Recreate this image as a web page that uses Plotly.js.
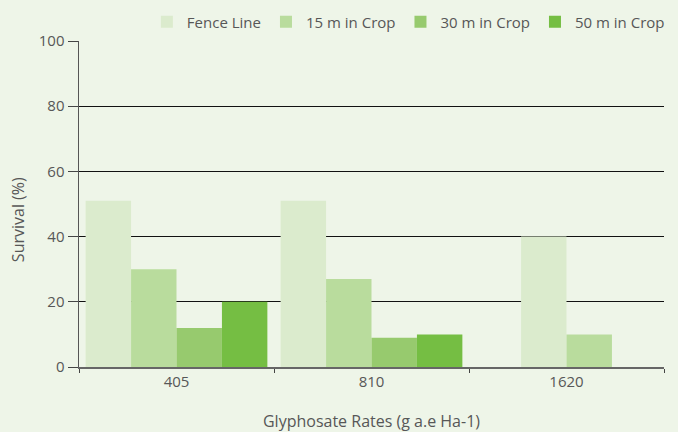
<!DOCTYPE html>
<html>
<head>
<meta charset="utf-8">
<script src="https://cdn.plot.ly/plotly-3.0.1.min.js"></script>
<style>
  html, body { margin: 0; padding: 0; background: #EEF5E8; }
  #chart { width: 678px; height: 432px; }
</style>
</head>
<body>
<div id="chart"></div>
<script>
// ---- data ----
const categories = ["405", "810", "1620"];
const seriesNames = ["Fence Line", "15 m in Crop", "30 m in Crop", "50 m in Crop"];
const fenceLine = [51, 51, 40];
const crop15 = [30, 27, 10];
const crop30 = [12, 9, null];
const crop50 = [20, 10, null];
const yTicks = [0, 20, 40, 60, 80, 100];

// ---- styles ----
const colors = ["#DBEBCD", "#B9DC9D", "#97CA6E", "#75BE43"];
const textColor = "#575757";
const fontFamily = "'Open Sans', Lato, sans-serif";
const barW = 0.233;

const allSeries = [fenceLine, crop15, crop30, crop50];

// compact bars per category (missing values are skipped, remaining bars centred)
function offsetsFor(si) {
  return categories.map((c, j) => {
    const present = allSeries.map(s => s[j] !== null && s[j] !== undefined);
    const n = present.filter(Boolean).length;
    let k = 0;
    for (let t = 0; t < si; t++) if (present[t]) k++;
    return -n * barW / 2 + k * barW;
  });
}

const traces = allSeries.map((vals, i) => ({
  type: "bar",
  name: seriesNames[i],
  x: categories,
  y: vals,
  offset: offsetsFor(i),
  width: categories.map(() => barW),
  marker: { color: colors[i], line: { width: 0 } },
  hoverinfo: "x+y+name"
}));

const layout = {
  width: 678,
  height: 432,
  paper_bgcolor: "#EEF5E8",
  plot_bgcolor: "#EEF5E8",
  margin: { l: 79, r: 14, t: 41, b: 65, pad: 0, autoexpand: false },
  barmode: "overlay",
  font: { family: fontFamily, size: 15, color: textColor },
  showlegend: true,
  legend: {
    orientation: "h",
    xref: "container",
    yref: "container",
    x: 0.988,
    xanchor: "right",
    y: 0.949,
    yanchor: "middle",
    bgcolor: "rgba(0,0,0,0)",
    font: { family: fontFamily, size: 15, color: textColor },
    itemwidth: 30,
    traceorder: "normal"
  },
  xaxis: {
    type: "category",
    range: [-0.5, 2.5],
    tickson: "boundaries",
    ticks: "outside",
    ticklen: 4,
    tickcolor: "#444",
    tickwidth: 1,
    showline: true,
    linecolor: "#666",
    linewidth: 1.5,
    showgrid: false,
    zeroline: false,
    tickfont: { family: fontFamily, size: 15, color: textColor },
    title: {
      text: "Glyphosate Rates (g a.e Ha-1)",
      font: { family: fontFamily, size: 16, color: textColor },
      standoff: 28
    },
    automargin: false,
    fixedrange: true
  },
  yaxis: {
    range: [0, 100],
    tickvals: yTicks,
    ticktext: yTicks.map(String),
    ticks: "outside",
    ticklen: 10,
    tickcolor: "#444",
    tickwidth: 1,
    showline: true,
    linecolor: "#555",
    linewidth: 1.5,
    showgrid: true,
    gridcolor: "#111",
    gridwidth: 1,
    zeroline: false,
    tickfont: { family: fontFamily, size: 15, color: textColor },
    automargin: false,
    fixedrange: true
  },
  annotations: [{
    text: "Survival (%)",
    textangle: -90,
    xref: "paper",
    yref: "paper",
    x: -0.104,
    y: 0.451,
    xanchor: "center",
    yanchor: "middle",
    showarrow: false,
    font: { family: fontFamily, size: 16, color: textColor }
  }]
};

Plotly.newPlot("chart", traces, layout, { displayModeBar: false, staticPlot: true });
</script>
</body>
</html>
